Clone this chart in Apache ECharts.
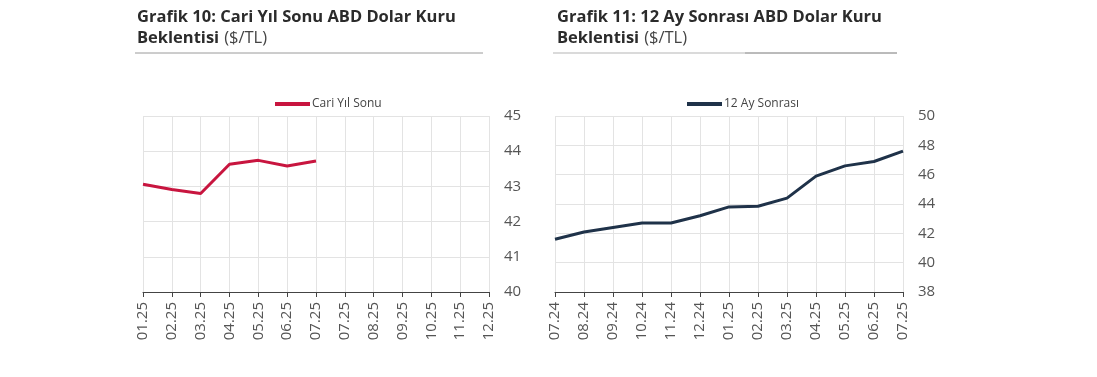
<!DOCTYPE html>
<html>
<head>
<meta charset="utf-8">
<script src="https://cdn.jsdelivr.net/npm/echarts@6/dist/echarts.min.js"></script>
<style>
  html, body { margin: 0; padding: 0; background: #fff; }
  #chart { width: 1097px; height: 377px; }
</style>
</head>
<body>
<div id="chart"></div>
<script>
// Grafik 10: cari yil sonu beklentisi
const months1 = ['01.25', '02.25', '03.25', '04.25', '05.25', '06.25', '07.25', '07.25 ', '08.25', '09.25', '10.25', '11.25', '12.25']
const cariYilSonu = [43.06, 42.91, 42.8, 43.63, 43.74, 43.58, 43.72, null, null, null, null, null, null]

// Grafik 11: 12 ay sonrasi beklentisi
const months2 = ['07.24', '08.24', '09.24', '10.24', '11.24', '12.24', '01.25', '02.25', '03.25', '04.25', '05.25', '06.25', '07.25']
const onikiAySonrasi = [41.6, 42.09, 42.4, 42.7, 42.7, 43.2, 43.8, 43.85, 44.4, 45.9, 46.6, 46.9, 47.6]

const font = '"Open Sans", "Noto Sans", sans-serif'
const gridColor = '#e3e3e3'
const labelColor = '#555'

let chart = echarts.init(document.getElementById('chart'), null, { renderer: 'canvas' })

let xAxisBase = (data, gridIndex) => ({
  type: 'category',
  gridIndex: gridIndex,
  data: data,
  boundaryGap: false,
  axisLine: { lineStyle: { color: '#444', width: 1 } },
  axisTick: { show: true, length: 5, lineStyle: { color: '#444' } },
  axisLabel: {
    rotate: 90,
    margin: 10,
    color: labelColor,
    fontFamily: font,
    fontSize: 15,
    interval: 0,
    formatter: (v) => v.trim()
  },
  splitLine: { show: true, lineStyle: { color: gridColor } }
})

let yAxisBase = (min, max, interval, gridIndex) => ({
  type: 'value',
  gridIndex: gridIndex,
  position: 'right',
  min: min,
  max: max,
  interval: interval,
  axisLine: { show: false },
  axisTick: { show: false },
  axisLabel: { color: labelColor, fontFamily: font, fontSize: 15, margin: 15 },
  splitLine: { show: true, lineStyle: { color: gridColor } }
})

let titleRich = {
  b: { fontFamily: font, fontSize: 16.5, fontWeight: 'bold', color: '#2b2b2b', lineHeight: 21 },
  n: { fontFamily: font, fontSize: 16.5, fontWeight: 'normal', color: '#444', lineHeight: 21 }
}

let option = {
  animation: false,
  backgroundColor: '#fff',
  title: [
    {
      left: 132,
      top: 2,
      text: '{b|Grafik 10: Cari Yıl Sonu ABD Dolar Kuru}\n{b|Beklentisi} {n|($/TL)}',
      textStyle: { rich: titleRich }
    },
    {
      left: 552,
      top: 2,
      text: '{b|Grafik 11: 12 Ay Sonrası ABD Dolar Kuru}\n{b|Beklentisi} {n|($/TL)}',
      textStyle: { rich: titleRich }
    }
  ],
  graphic: [
    { type: 'line', shape: { x1: 135, y1: 53, x2: 483, y2: 53 }, style: { stroke: '#9a9a9a', lineWidth: 1 } },
    { type: 'line', shape: { x1: 553, y1: 53, x2: 745, y2: 53 }, style: { stroke: '#b5b5b5', lineWidth: 1 } },
    { type: 'line', shape: { x1: 745, y1: 53, x2: 897, y2: 53 }, style: { stroke: '#777', lineWidth: 1 } }
  ],
  legend: [
    {
      data: ['Cari Yıl Sonu'],
      left: 270,
      top: 93,
      icon: 'rect',
      itemWidth: 35,
      itemHeight: 4,
      textStyle: { fontFamily: font, fontSize: 12, color: '#444', padding: [0, 0, 0, -3] }
    },
    {
      data: ['12 Ay Sonrası'],
      left: 682,
      top: 93,
      icon: 'rect',
      itemWidth: 35,
      itemHeight: 4,
      textStyle: { fontFamily: font, fontSize: 12, color: '#444', padding: [0, 0, 0, -3] }
    }
  ],
  grid: [
    { left: 143, right: 608, top: 116, bottom: 85, containLabel: false },
    { left: 555, right: 194, top: 116, bottom: 85, containLabel: false }
  ],
  xAxis: [xAxisBase(months1, 0), xAxisBase(months2, 1)],
  yAxis: [yAxisBase(40, 45, 1, 0), yAxisBase(38, 50, 2, 1)],
  series: [
    {
      name: 'Cari Yıl Sonu',
      type: 'line',
      xAxisIndex: 0,
      yAxisIndex: 0,
      showSymbol: false,
      lineStyle: { color: '#c8153f', width: 3 },
      itemStyle: { color: '#c8153f' },
      data: cariYilSonu
    },
    {
      name: '12 Ay Sonrası',
      type: 'line',
      xAxisIndex: 1,
      yAxisIndex: 1,
      showSymbol: false,
      lineStyle: { color: '#1f3249', width: 3 },
      itemStyle: { color: '#1f3249' },
      data: onikiAySonrasi
    }
  ]
}

chart.setOption(option)
</script>
</body>
</html>
